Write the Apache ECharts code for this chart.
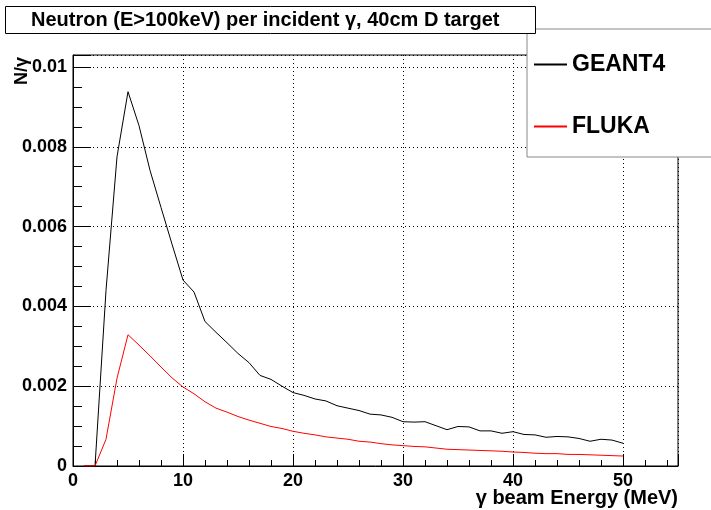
<!DOCTYPE html>
<html>
<head>
<meta charset="utf-8">
<script src="https://cdn.jsdelivr.net/npm/echarts@6/dist/echarts.min.js"></script>
<style>
  html, body { margin: 0; padding: 0; background: #fff; }
  #chart { width: 711px; height: 510px; }
</style>
</head>
<body>
<div id="chart"></div>
<script>
// beam energy (MeV)
var energy = [1, 2, 3, 4, 5, 6, 7, 8, 9, 10,
  11, 12, 13, 14, 15, 16, 17, 18, 19, 20,
  21, 22, 23, 24, 25, 26, 27, 28, 29, 30,
  31, 32, 33, 34, 35, 36, 37, 38, 39, 40,
  41, 42, 43, 44, 45, 46, 47, 48, 49, 50]

// neutrons per incident gamma, in units of 1e-3
var geant4 = [0, 0, 4.40, 7.75, 9.38, 8.53, 7.41, 6.48, 5.56, 4.66,
  4.36, 3.62, 3.35, 3.09, 2.82, 2.59, 2.27, 2.17, 2.00, 1.84,
  1.77, 1.68, 1.63, 1.51, 1.45, 1.39, 1.30, 1.28, 1.22, 1.11,
  1.10, 1.11, 1.01, 0.91, 0.99, 0.98, 0.88, 0.88, 0.82, 0.86,
  0.79, 0.78, 0.72, 0.74, 0.73, 0.69, 0.62, 0.67, 0.65, 0.57]

var fluka = [0, 0, 0.67, 2.20, 3.29, 3.03, 2.76, 2.48, 2.21, 1.98,
  1.81, 1.61, 1.45, 1.35, 1.24, 1.15, 1.07, 0.99, 0.94, 0.87,
  0.82, 0.78, 0.73, 0.70, 0.67, 0.62, 0.60, 0.56, 0.53, 0.51,
  0.49, 0.48, 0.45, 0.42, 0.41, 0.40, 0.39, 0.38, 0.37, 0.35,
  0.34, 0.32, 0.31, 0.31, 0.29, 0.29, 0.28, 0.27, 0.26, 0.25]

var xTicks = [0, 10, 20, 30, 40, 50]
var yTicks = [0, 0.002, 0.004, 0.006, 0.008, 0.01]

var FONT = 'Liberation Sans, Arial, sans-serif'

function pairs(xs, ys) {
  return xs.map(function (x, i) { return [x, ys[i] * 1e-3] })
}

var chart = echarts.init(document.getElementById('chart'), null, { renderer: 'canvas' })

chart.setOption({
  animation: false,
  backgroundColor: '#fff',
  textStyle: { fontFamily: FONT },
  title: {
    text: 'Neutron (E>100keV) per incident \u03b3, 40cm D target',
    left: 5,
    top: 6,
    padding: [4, 36, 4, 26],
    backgroundColor: '#fff',
    borderColor: '#000',
    borderWidth: 1,
    textStyle: { fontFamily: FONT, fontSize: 20, fontWeight: 'bold', color: '#000' }
  },
  legend: {
    orient: 'vertical',
    left: 527,
    top: 29,
    padding: [24, 60, 19, 7],
    itemGap: 39,
    itemWidth: 33,
    itemHeight: 2,
    icon: 'rect',
    backgroundColor: '#fff',
    borderColor: '#888',
    borderWidth: 1,
    textStyle: { fontFamily: FONT, fontSize: 23, fontWeight: 'bold', color: '#000' },
    data: ['GEANT4', 'FLUKA']
  },
  grid: {
    left: 73,
    right: 33,
    top: 55,
    bottom: 44,
    outerBoundsMode: 'none',
    containLabel: false,
    show: true,
    borderColor: '#000',
    borderWidth: 1,
    backgroundColor: 'transparent'
  },
  xAxis: {
    type: 'value',
    min: 0,
    max: 55,
    interval: 10,
    axisLine: { show: true, onZero: false, lineStyle: { color: '#000', width: 1 } },
    axisTick: { show: true, inside: true, length: 12, lineStyle: { color: '#000' } },
    minorTick: { show: true, splitNumber: 5, length: 6, lineStyle: { color: '#000' } },
    axisLabel: {
      fontFamily: FONT, fontSize: 18, fontWeight: 'bold', color: '#000', margin: 6,
      customValues: xTicks,
      formatter: function (v) { return v <= 50 ? String(v) : '' }
    },
    splitLine: { show: true, lineStyle: { color: '#000', width: 1, type: [1, 3] } }
  },
  yAxis: {
    type: 'value',
    min: 0,
    max: 0.0103,
    interval: 0.002,
    axisLine: { show: true, onZero: false, lineStyle: { color: '#000', width: 1 } },
    axisTick: { show: true, inside: true, length: 18, lineStyle: { color: '#000' } },
    minorTick: { show: true, splitNumber: 4, length: 9, lineStyle: { color: '#000' } },
    axisLabel: {
      fontFamily: FONT, fontSize: 18, fontWeight: 'bold', color: '#000', margin: 6,
      formatter: function (v) {
        if (yTicks.indexOf(Math.round(v * 1000) / 1000) < 0) return ''
        return String(Math.round(v * 1000) / 1000)
      }
    },
    splitLine: { show: true, lineStyle: { color: '#000', width: 1, type: [1, 3] } }
  },
  graphic: [{
    // y axis title, rotated
    type: 'text',
    x: 22,
    y: 57,
    rotation: Math.PI / 2,
    style: {
      text: 'N/\u03b3',
      font: 'bold 18px ' + FONT,
      fill: '#000',
      align: 'right',
      verticalAlign: 'middle'
    }
  }, {
    // x axis title, right aligned to the frame
    type: 'text',
    x: 678,
    y: 488,
    style: {
      text: '\u03b3 beam Energy (MeV)',
      font: 'bold 20px ' + FONT,
      fill: '#000',
      align: 'right',
      verticalAlign: 'top'
    }
  }],
  series: [{
    name: 'GEANT4',
    type: 'line',
    data: pairs(energy, geant4),
    showSymbol: false,
    color: '#000',
    lineStyle: { color: '#000', width: 1 },
    z: 3
  }, {
    name: 'FLUKA',
    type: 'line',
    data: pairs(energy, fluka),
    showSymbol: false,
    color: '#ff0000',
    lineStyle: { color: '#ff0000', width: 1 },
    z: 4
  }]
})
</script>
</body>
</html>
